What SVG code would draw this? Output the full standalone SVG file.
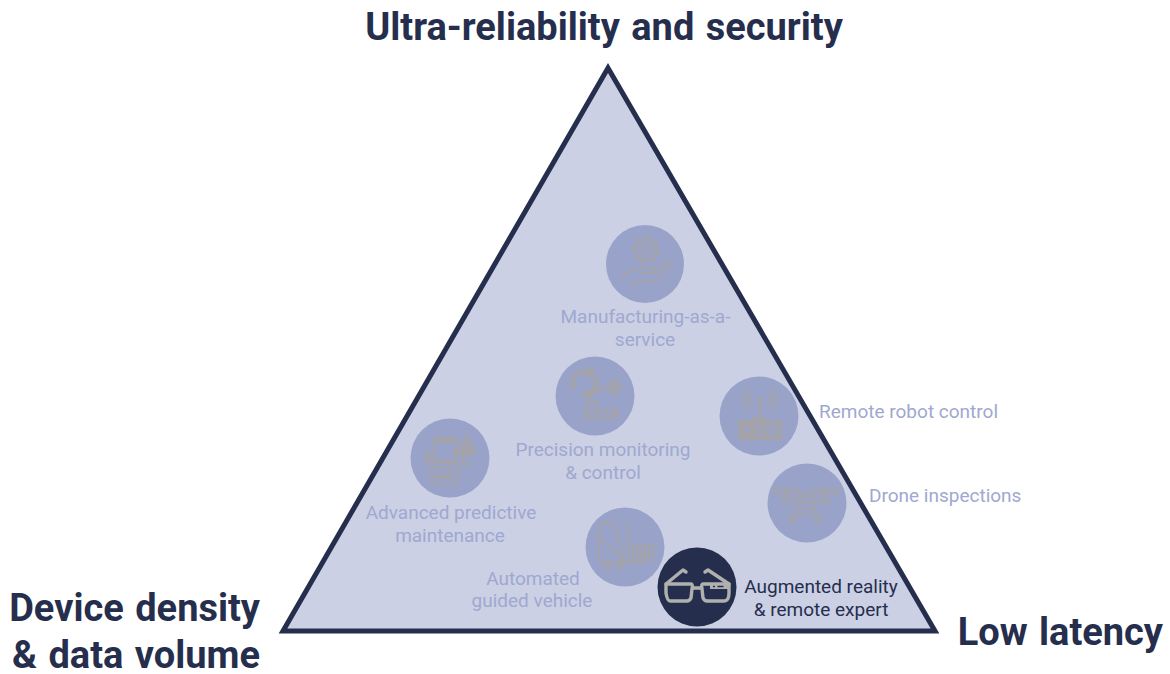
<svg xmlns="http://www.w3.org/2000/svg" width="1170" height="674" viewBox="0 0 1170 674">
<style>
.title{font-family:Roboto,"Liberation Sans",sans-serif;font-weight:700;font-size:38px;word-spacing:2px;fill:#262e4d}
.lab{font-family:Roboto,"Liberation Sans",sans-serif;font-size:19px;fill:#9fa8cf}
.dark{fill:#262e4d}
.c{fill:#99a3ca}
.ic{fill:none;stroke:#a3a3a9;stroke-width:2.200;stroke-linecap:round;stroke-linejoin:round}
.icf{fill:#a3a3a9;stroke:none}
.ar{fill:none;stroke:#b0b1ae;stroke-width:3.400;stroke-linecap:round;stroke-linejoin:round}
</style>
<g id="triangle"><polygon points="608,68 935,631 283,631" fill="#cbd0e5" stroke="#262e4d" stroke-width="5"/></g>
<g id="titles">
<text class="title" x="604" y="40" text-anchor="middle">Ultra-reliability and security</text>
<text class="title" x="260" y="621" text-anchor="end">Device density</text>
<text class="title" x="260" y="668" text-anchor="end">&amp; data volume</text>
<text class="title" x="1163" y="645" text-anchor="end">Low latency</text>
</g>
<g id="node-maas">
<circle class="c" cx="645" cy="264" r="39"/>
<circle class="ic" cx="646" cy="250" r="4"/>
<circle class="ic" cx="646" cy="250" r="10"/>
<circle cx="646" cy="250" r="12.500" fill="none" stroke="#a3a3a9" stroke-width="3" stroke-dasharray="4.900 4.920"/>
<path class="ic" d="M622 278l9-7c3-2 5-3 8-3h14c3 0 3 5 0 5h-11M654 271l12-8c3-2 5 1 3 4l-11 11c-3 3-5 4-9 4h-11c-3 0-5 1-8 5"/>
</g>
<g id="node-precision">
<circle class="c" cx="595" cy="396" r="39.500"/>
<path d="M574 389a11 11 0 0 1 14-16" fill="none" stroke="#a3a3a9" stroke-width="4.500"/>
<path class="icf" d="M587 366l11 7-11 6z"/>
<path d="M595 378a11 11 0 0 1-5 15" fill="none" stroke="#a3a3a9" stroke-width="4.500"/>
<path class="icf" d="M591 388v12l-11-5z"/>
<path class="ic" d="M594 387c3 1 4 3 7 2l6-2M594 394c3-2 6-4 9-5"/>
<path class="ic" d="M614 379l7 8-7 8-7-8zM614 383l3 4-3 4-3-4z"/>
<path class="ic" d="M587 409v-8h10v8"/>
<path class="ic" d="M585 410h29a3.500 3.500 0 0 1 0 8h-29zM588 414h20"/>
<circle class="ic" cx="614" cy="414" r="1.500"/>
</g>
<g id="node-predictive">
<circle class="c" cx="450" cy="458" r="39.500"/>
<path class="ic" d="M434 438h24v4h-24zM434 442v18h22v-18M438 440h16M432 467h26v17h-26zM432 463h26M432 478h26M438 470l7 7 7-7M440 478v-7M450 478v-7"/>
<path class="ic" d="M426 453c0-2 3-2 3 0v11h-3zM429 458h4"/>
<path class="ic" d="M463 455h5v11h-5z"/>
<circle class="ic" cx="457" cy="452" r="3"/>
<path class="icf" d="M467 433l10 21h-20z"/>
<path d="M467 441v6M467 449v2" stroke="#99a3ca" stroke-width="1.800" fill="none"/>
</g>
<g id="node-robot">
<circle class="c" cx="759" cy="416" r="39.500"/>
<circle class="icf" cx="760" cy="400" r="3"/>
<path class="ic" d="M760 400v17M752 407a11 11 0 0 1 0-14M768 393a11 11 0 0 1 0 14M747 411a18 18 0 0 1 0-22M773 389a18 18 0 0 1 0 22"/>
<path class="icf" d="M738 420h44v20h-44zM752 417h14v3h-14z"/>
<circle cx="747" cy="430" r="2.500" fill="#99a3ca"/>
<path d="M756 425h6M756 430h6M756 435h6" stroke="#99a3ca" stroke-width="2" fill="none"/>
<circle cx="772" cy="430" r="6.500" fill="#99a3ca"/>
<path d="M766 430h12M772 424v12M767 426h10M767 434h10" stroke="#a3a3a9" stroke-width="1.200" fill="none"/>
</g>
<g id="node-drone">
<circle class="c" cx="807" cy="503" r="39.500"/>
<ellipse class="ic" cx="779" cy="491" rx="5.500" ry="3"/><ellipse class="ic" cx="793" cy="491" rx="5.500" ry="3"/><circle class="ic" cx="786" cy="491" r="2"/>
<ellipse class="ic" cx="819" cy="491" rx="5.500" ry="3"/><ellipse class="ic" cx="833" cy="491" rx="5.500" ry="3"/><circle class="ic" cx="826" cy="491" r="2"/>
<path class="ic" d="M786 494v3M826 494v3"/>
<ellipse class="ic" cx="787" cy="501" rx="4.500" ry="3.500"/><ellipse class="ic" cx="825" cy="501" rx="4.500" ry="3.500"/>
<path class="ic" d="M792 501h5M814 501h6"/>
<circle class="ic" cx="805.500" cy="500" r="4"/>
<path class="ic" d="M797 509v-8a8.500 8.500 0 0 1 17 0v8z"/>
<path class="ic" d="M797 509l-4 4-3 8c-1 2 3 3 4 1l4-8h15l4 8c1 2 5 1 4-1l-3-8-4-4"/>
</g>
<g id="node-agv">
<circle class="c" cx="625" cy="547" r="39.500"/>
<path class="ic" d="M599 528c0-3 2-5 5-5h6c3 0 4 2 5 5l9 34h-21c-3 0-4-1-4-3zM600 538l24 22M628 523v40h-7M628 562h15"/>
<circle class="ic" cx="607" cy="566" r="3"/><circle class="ic" cx="620" cy="566" r="3"/>
<rect class="ic" x="633" y="545" width="20" height="15"/>
<path class="ic" d="M637 549h12v8h-12zM640 555l1-3 1 3M644 555l1-3 1 3"/>
</g>
<g id="node-ar">
<circle class="dark" cx="697" cy="587" r="39.500"/>
<path class="ar" d="M666 584h25c1 0 2 2 1 4h10c-1-2 0-4 1-4h26l0 9c0 6-2 8-5 8h-17c-2 0-3-1-4-3l-1-9-2-1h-6l-2 1-1 9c-1 2-2 3-4 3h-17c-2 0-3-2-4-8z"/>
<path class="ar" d="M666 584l17-14 3 2M729 584l-21-14-3 2"/>
<path d="M710 584h18v5h-18z" fill="#b0b1ae"/>
<path d="M713 586.500h2M717.500 586.500h6" stroke="#262e4d" stroke-width="1.500"/>
</g>
<g id="labels">
<text class="lab" x="645.500" y="323" text-anchor="middle">Manufacturing-as-a-</text>
<text class="lab" x="645" y="346" text-anchor="middle">service</text>
<text class="lab" x="603" y="456" text-anchor="middle">Precision monitoring</text>
<text class="lab" x="603" y="479" text-anchor="middle">&amp; control</text>
<text class="lab" x="451" y="519" text-anchor="middle">Advanced predictive</text>
<text class="lab" x="450" y="542" text-anchor="middle">maintenance</text>
<text class="lab" x="533" y="585" text-anchor="middle">Automated</text>
<text class="lab" x="532" y="607" text-anchor="middle">guided vehicle</text>
<text class="lab" x="819" y="418">Remote robot control</text>
<text class="lab" x="869" y="502">Drone inspections</text>
<text class="lab" x="821" y="593" text-anchor="middle" style="fill:#262e4d">Augmented reality</text>
<text class="lab" x="821" y="616" text-anchor="middle" style="fill:#262e4d">&amp; remote expert</text>
</g>
</svg>
